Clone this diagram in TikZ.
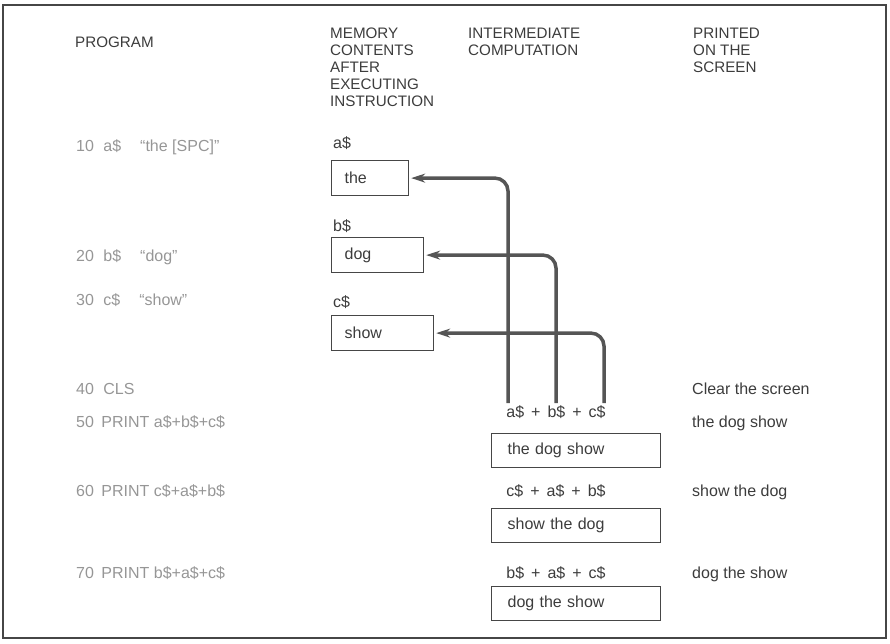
\documentclass[tikz,border=0pt]{standalone}
\usepackage{fontspec}
\setmainfont{Liberation Sans}
\usetikzlibrary{arrows.meta, positioning}
\definecolor{inkgray}{RGB}{60,60,60}
\definecolor{proggray}{RGB}{150,150,150}
\definecolor{boxgray}{RGB}{70,70,70}
\definecolor{flowgray}{RGB}{85,85,85}
\newcommand{\plusgap}{\hspace{7pt}+\hspace{7pt}}

\begin{document}
\begin{tikzpicture}[x=1pt, y=-1pt,
  every node/.style={font=\fontsize{16}{17}\selectfont, text=inkgray, inner sep=0pt},
  heading/.style={anchor=north west, align=left, font=\fontsize{15.2}{17}\selectfont},
  progline/.style={anchor=base west, text=proggray},
  plain/.style={anchor=base west},
  membox/.style={draw=boxgray, line width=1.2pt, anchor=north west, align=left, inner xsep=13pt, minimum height=35pt},
  resbox/.style={membox, inner xsep=16pt, text width=137pt, minimum height=34pt},
  flowline/.style={-{Stealth[length=14pt, width=9pt]}, line width=3.5pt, flowgray, rounded corners=13pt, shorten >=2pt}]
  \useasboundingbox (0,0) rectangle (890,643);
  % frame
  \draw[boxgray, line width=1.2pt] (3,5) rectangle (886,638);

  % column headings
  \node[heading] (hprog) at (75,37) {PROGRAM};
  \node[heading] (hmem) at (330,28) {MEMORY\\CONTENTS\\AFTER\\EXECUTING\\INSTRUCTION};
  \node[heading] (hint) at (468,28) {INTERMEDIATE\\COMPUTATION};
  \node[heading] (hprint) at (693,28) {PRINTED\\ON THE\\SCREEN};

  % program lines
  \node[progline] (p10) at (76,151) {10\hspace{5pt} a\$\hspace{19pt}``the [SPC]''};
  \node[progline] (p20) at (76,261) {20\hspace{5pt} b\$\hspace{19pt}``dog''};
  \node[progline] (p30) at (76,305) {30\hspace{5pt} c\$\hspace{19pt}``show''};
  \node[progline] (p40) at (76,394) {40\hspace{5pt} CLS};
  \node[progline] (p50) at (76,427) {50\hspace{3pt} PRINT a\$+b\$+c\$};
  \node[progline] (p60) at (76,496) {60\hspace{3pt} PRINT c\$+a\$+b\$};
  \node[progline] (p70) at (76,578) {70\hspace{3pt} PRINT b\$+a\$+c\$};

  % memory contents
  \node[plain] (na) at (333,148) {a\$};
  \node[membox, text width=51pt] (mema) at (331,160) {the};
  \node[plain] (nb) at (333,231) {b\$};
  \node[membox, text width=66pt] (memb) at (331,237) {dog};
  \node[plain] (nc) at (333,307) {c\$};
  \node[membox, text width=76pt] (memc) at (331,315) {show};

  % intermediate computation
  \node[anchor=base] (fa) at (556,417) {a\$\plusgap b\$\plusgap c\$};
  \node[resbox] (ra) at (491,433) {the dog show};
  \node[anchor=base] (fb) at (556,496) {c\$\plusgap a\$\plusgap b\$};
  \node[resbox] (rb) at (491,508) {show the dog};
  \node[anchor=base] (fc) at (556,578) {b\$\plusgap a\$\plusgap c\$};
  \node[resbox] (rc) at (491,586) {dog the show};

  % printed on the screen
  \node[plain] (s40) at (692,394) {Clear the screen};
  \node[plain] (s50) at (692,427) {the dog show};
  \node[plain] (s60) at (692,496) {show the dog};
  \node[plain] (s70) at (692,578) {dog the show};

  % fetching the strings
  \coordinate (srca) at (508,403);
  \coordinate (srcb) at (556,403);
  \coordinate (srcc) at (604,403);
  \draw[flowline] (srca) |- (mema.east);
  \draw[flowline] (srcb) |- (memb.east);
  \draw[flowline] (srcc) |- (memc.east);
\end{tikzpicture}
\end{document}
